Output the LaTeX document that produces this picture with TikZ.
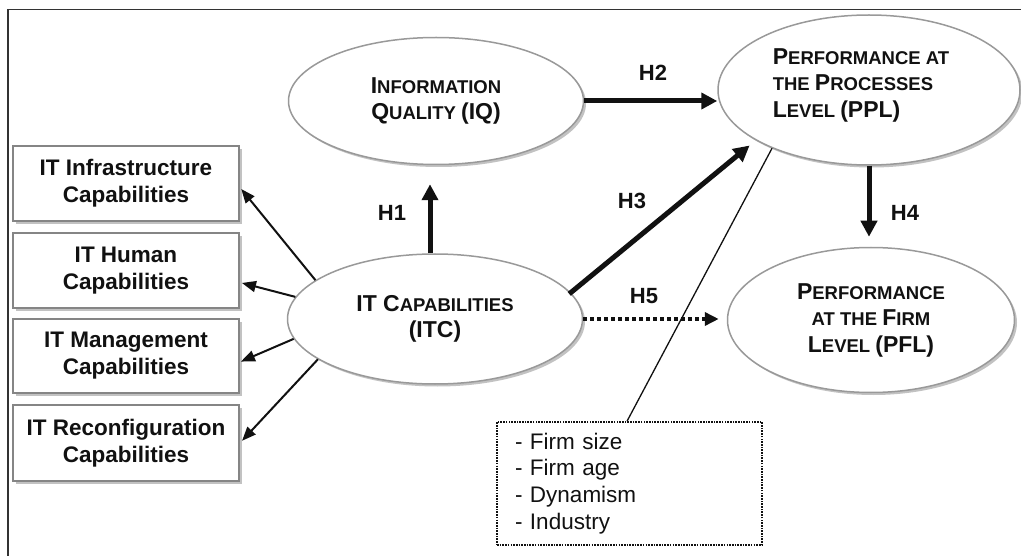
\documentclass[tikz,border=0pt]{standalone}
\usepackage{fontspec}
\setmainfont{Liberation Sans}
\usetikzlibrary{arrows.meta,shapes.geometric,shadows}
\definecolor{ink}{HTML}{111111}
\definecolor{rim}{HTML}{999999}
\definecolor{boxrim}{HTML}{858585}
\definecolor{shade}{HTML}{C2C2C2}
\definecolor{frame}{HTML}{333333}
% faked small capitals: large initials, smaller remaining letters
\newcommand\Cap[1]{{\fontsize{23}{26.5}\selectfont #1}}
\newcommand\scfont{\fontsize{18.5}{26.5}\selectfont\bfseries}

\begin{document}
\begin{tikzpicture}[x=1pt,y=-1pt,
  construct/.style={ellipse, draw=rim, line width=1.5pt, fill=white,
    inner sep=0pt, align=center, font=\scfont, text=ink,
    drop shadow={fill=shade, opacity=1, shadow xshift=2.5pt, shadow yshift=-2.5pt}},
  dimbox/.style={rectangle, draw=boxrim, line width=2pt, fill=white,
    minimum width=226pt, inner sep=0pt, align=center, text=ink,
    font=\fontsize{22.5}{27}\selectfont\bfseries,
    drop shadow={fill=shade, opacity=1, shadow xshift=3pt, shadow yshift=-3pt}},
  ctrlbox/.style={rectangle, draw=ink, line width=1.5pt, dash pattern=on 1.6pt off 1.1pt,
    minimum width=265pt, minimum height=123pt, inner sep=0pt, text width=229pt,
    align=left, text=ink, font=\fontsize{22.5}{26.7}\selectfont},
  hyp/.style={font=\fontsize{22}{24}\selectfont\bfseries, text=ink, inner sep=0pt},
  strong/.style={draw=ink, line width=5pt, -{Triangle[length=16pt,width=16pt]}},
  weak/.style={draw=ink, line width=2pt, -{Triangle[length=14pt,width=11pt]}},
  dotarrow/.style={draw=ink, line width=3.6pt, dash pattern=on 4pt off 3pt,
    -{Triangle[length=14pt,width=13pt]}}
]
\useasboundingbox (0,0) rectangle (1021,556);

% open frame
\draw[frame, line width=1.4pt] (8,556) -- (8,9.5) -- (1021,9.5);

% capability dimensions
\node[dimbox, minimum height=75pt] (b1) at (126,183.5) {IT Infrastructure\\Capabilities};
\node[dimbox, minimum height=75pt] (b2) at (126,270.5) {IT Human\\Capabilities};
\node[dimbox, minimum height=74pt] (b3) at (126,356) {IT Management\\Capabilities};
\node[dimbox, minimum height=76pt] (b4) at (126,443) {IT Reconfiguration\\Capabilities};

% constructs
\node[construct, minimum width=295pt, minimum height=127pt] (iq) at (436,101)
  {\Cap{I}NFORMATION\\\Cap{Q}UALITY \Cap{(IQ)}};
\node[construct, minimum width=302pt, minimum height=150pt] (ppl) at (869,90) {};
\node[align=left, font=\scfont, text=ink, inner sep=0pt] (ppltext) at (861,85)
  {\Cap{P}ERFORMANCE AT\\THE \Cap{P}ROCESSES\\\Cap{L}EVEL \Cap{(PPL)}};
\node[construct, minimum width=295pt, minimum height=130pt] (itc) at (435,319)
  {\Cap{IT C}APABILITIES\\\Cap{(ITC)}};
\node[construct, minimum width=287pt, minimum height=145pt] (pfl) at (871,320)
  {\Cap{P}ERFORMANCE\\AT THE \Cap{F}IRM\\\Cap{L}EVEL \Cap{(PFL)}};

% control variables
\node[ctrlbox] (ctrl) at (629.5,483.5) {- Firm size\\- Firm age\\- Dynamism\\- Industry};

% hypothesised paths
\draw[strong, shorten >=19pt] (itc.north -| 430,0) -- (iq.south -| 430,0);
\draw[strong] (iq.east) -- (iq.east -| ppl.west);
\draw[strong, shorten <=-2pt, shorten >=8pt] (itc.11) -- (ppl.204);
\draw[strong, shorten >=10pt] (ppl.south) -- (ppl.south |- pfl.north);
\draw[dotarrow, shorten >=8pt] (itc.east) -- (itc.east -| pfl.west);

\node[hyp] (h1) at (392,213) {H1};
\node[hyp] (h2) at (653,73) {H2};
\node[hyp] (h3) at (632,201) {H3};
\node[hyp] (h4) at (905,213) {H4};
\node[hyp] (h5) at (644,296) {H5};

% reflective indicators
\draw[weak, shorten >=2pt] (itc.162) -- (b1.-2);
\draw[weak, shorten >=2pt] (itc.171) -- (b2.-6);
\draw[weak, shorten >=1pt] (itc.188) -- (b3.-3);
\draw[weak, shorten >=3pt] (itc.199) -- (b4.0);

% controls link
\draw[ink, line width=1.3pt] (ctrl.north -| 627,0) -- (ppl.211);
\end{tikzpicture}
\end{document}
